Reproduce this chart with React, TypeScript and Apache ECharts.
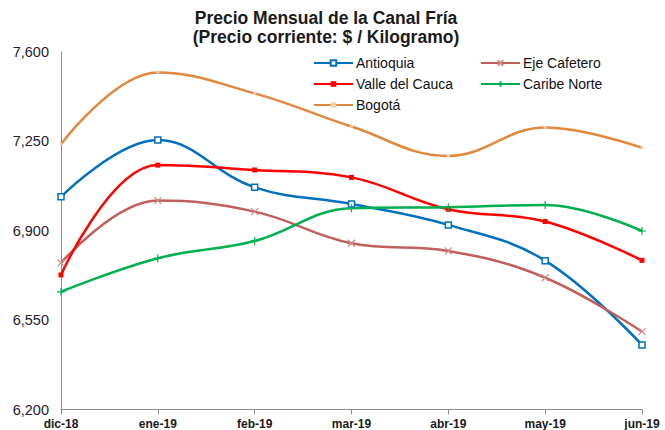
import React, { useEffect, useRef } from "react";
import * as echarts from "echarts";

const categories = ["dic-18", "ene-19", "feb-19", "mar-19", "abr-19", "may-19", "jun-19"];
const antioquia = [7033, 7255, 7070, 7005, 6923, 6783, 6453];
const ejeCafetero = [6774, 7018, 6975, 6851, 6821, 6716, 6505];
const valleDelCauca = [6727, 7157, 7138, 7109, 6984, 6936, 6784];
const caribeNorte = [6661, 6792, 6860, 6988, 6992, 7001, 6899];
const bogota = [7239, 7520, 7438, 7308, 7193, 7304, 7225];

const FONT = "'Liberation Sans', Arial, sans-serif";

export default function App() {
  const ref = useRef<HTMLDivElement>(null);
  useEffect(() => {
    if (!ref.current) return;
    const chart = echarts.init(ref.current, null, { renderer: "svg" });
    const smooth = 0.4;
    const mk = (name: string, data: number[], color: string, symbol: string, size: any, itemStyle: any) => ({
      name,
      type: "line",
      data,
      smooth,
      symbol,
      symbolSize: size,
      showAllSymbol: true,
      lineStyle: { color, width: 2.5 },
      itemStyle,
      z: 2,
    });
    const legendText = { fontFamily: FONT, fontSize: 14, color: "#111", lineHeight: 16, padding: [0, 0, 0, -2] };
    chart.setOption({
      animation: false,
      backgroundColor: "#ffffff",
      textStyle: { fontFamily: FONT },
      title: {
        text: "Precio Mensual de la Canal Fría\n(Precio corriente: $ / Kilogramo)",
        left: 326,
        textAlign: "center",
        top: 9,
        padding: 0,
        textStyle: { fontFamily: FONT, fontSize: 17.5, fontWeight: "bold", color: "#1a1a1a", lineHeight: 18.5 },
      },
      legend: [
        {
          data: ["Antioquia", "Valle del Cauca", "Bogotá"],
          orient: "vertical",
          left: 313,
          top: 55,
          padding: 0,
          itemWidth: 39,
          itemHeight: 7,
          itemGap: 5,
          textStyle: legendText,
        },
        {
          data: ["Eje Cafetero", "Caribe Norte"],
          orient: "vertical",
          left: 480,
          top: 55,
          padding: 0,
          itemWidth: 39,
          itemHeight: 7,
          itemGap: 5,
          textStyle: legendText,
        },
      ],
      grid: { left: 61, right: 23, top: 52, bottom: 20.5, containLabel: false },
      xAxis: {
        type: "category",
        data: categories,
        boundaryGap: false,
        axisLine: { lineStyle: { color: "#8c8c8c", width: 1 } },
        axisTick: { show: true, length: 5, lineStyle: { color: "#8c8c8c" } },
        axisLabel: { fontFamily: FONT, fontSize: 12, fontWeight: "bold", color: "#1a1a1a", margin: 8 },
        splitLine: { show: false },
      },
      yAxis: {
        type: "value",
        min: 6200,
        max: 7600,
        interval: 350,
        axisLine: { show: true, lineStyle: { color: "#8c8c8c", width: 1 } },
        axisTick: { show: false },
        splitLine: { show: false },
        axisLabel: {
          fontFamily: FONT,
          fontSize: 14.5,
          color: "#1f2030",
          margin: 12,
          formatter: (v: number) => v.toLocaleString("en-US"),
        },
      },
      series: [
        mk("Antioquia", antioquia, "#0070C0", "rect", 6, {
          color: "#ffffff",
          borderColor: "#0070C0",
          borderWidth: 1.5,
        }),
        mk("Eje Cafetero", ejeCafetero, "#C0605C", "path://M0,0L10,10M10,0L0,10", 7, {
          color: "transparent",
          borderColor: "#D08C8A",
          borderWidth: 1.2,
        }),
        mk("Valle del Cauca", valleDelCauca, "#FF0000", "rect", 5, {
          color: "#FF0000",
          borderColor: "#FF0000",
          borderWidth: 0,
        }),
        mk("Caribe Norte", caribeNorte, "#00B050", "path://M5,0L5,10M0,5L10,5", 8, {
          color: "transparent",
          borderColor: "#00B050",
          borderWidth: 1.2,
        }),
        mk("Bogotá", bogota, "#E0883E", "rect", [3, 2], {
          color: "#F6D2B2",
          borderColor: "#F6D2B2",
          borderWidth: 0,
        }),
      ],
    });
    return () => chart.dispose();
  }, []);
  return (
    <div
      ref={ref}
      style={{ position: "fixed", left: 0, top: 0, width: 665, height: 430, background: "#fff" }}
    />
  );
}
